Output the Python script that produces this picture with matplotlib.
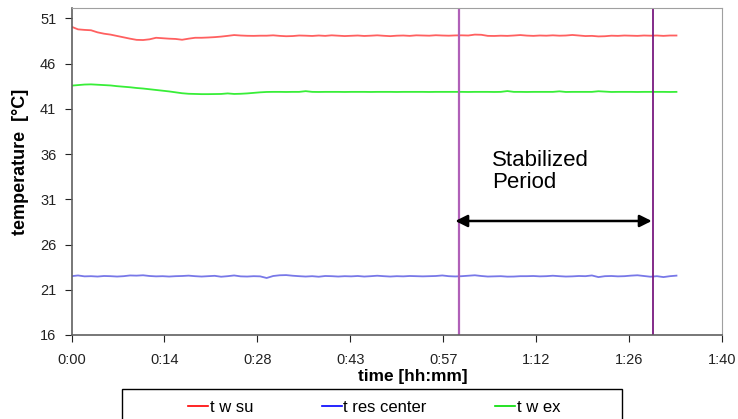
import matplotlib
matplotlib.use("Agg")
import matplotlib.pyplot as plt
from matplotlib.lines import Line2D
from matplotlib.patches import Rectangle
import numpy as np

plt.rcParams['font.family'] = ['Liberation Sans', 'DejaVu Sans']

# time in minutes, one reading per minute
minutes = list(range(94))

tw_su = [50.07, 49.78, 49.72, 49.68, 49.45, 49.3, 49.2, 49.05, 48.9, 48.75,
         48.62, 48.6, 48.68, 48.85, 48.8, 48.75, 48.72, 48.63, 48.75, 48.85,
         48.85, 48.88, 48.92, 48.98, 49.06, 49.15, 49.1, 49.07, 49.06, 49.08,
         49.08, 49.12, 49.06, 49.02, 49.04, 49.1, 49.08, 49.05, 49.1, 49.06,
         49.12, 49.08, 49.04, 49.07, 49.1, 49.05, 49.08, 49.12, 49.07, 49.03,
         49.08, 49.1, 49.06, 49.12, 49.1, 49.08, 49.13, 49.1, 49.08, 49.11,
         49.12, 49.1, 49.2, 49.18, 49.06, 49.05, 49.08, 49.06, 49.1, 49.15,
         49.09, 49.06, 49.1, 49.08, 49.12, 49.08, 49.1, 49.16, 49.1, 49.04,
         49.06, 49.0, 49.02, 49.08, 49.06, 49.1, 49.08, 49.06, 49.1, 49.08,
         49.1, 49.06, 49.1, 49.1]

tres_center = [22.5, 22.58, 22.48, 22.5, 22.46, 22.52, 22.5, 22.46, 22.5, 22.58,
               22.56, 22.6, 22.52, 22.48, 22.5, 22.46, 22.5, 22.52, 22.56, 22.5,
               22.46, 22.5, 22.54, 22.44, 22.5, 22.58, 22.48, 22.46, 22.5, 22.48,
               22.3, 22.52, 22.6, 22.62, 22.55, 22.5, 22.46, 22.5, 22.44, 22.52,
               22.5, 22.46, 22.5, 22.48, 22.52, 22.46, 22.5, 22.55, 22.5, 22.46,
               22.5, 22.48, 22.52, 22.5, 22.48, 22.5, 22.52, 22.58, 22.5, 22.47,
               22.5, 22.55, 22.6, 22.52, 22.46, 22.48, 22.5, 22.45, 22.46, 22.5,
               22.5, 22.52, 22.48, 22.5, 22.55, 22.5, 22.46, 22.48, 22.52, 22.5,
               22.58, 22.4, 22.5, 22.52, 22.48, 22.5, 22.56, 22.6, 22.52, 22.44,
               22.5, 22.4, 22.5, 22.56]

tw_ex = [43.56, 43.62, 43.68, 43.7, 43.66, 43.62, 43.58, 43.5, 43.44, 43.38,
         43.3, 43.24, 43.16, 43.08, 43.0, 42.92, 42.82, 42.72, 42.66, 42.64,
         42.62, 42.62, 42.63, 42.64, 42.7, 42.64, 42.66, 42.7, 42.76, 42.82,
         42.86, 42.87, 42.87, 42.86, 42.87, 42.87, 42.95, 42.87, 42.86, 42.87,
         42.87, 42.87, 42.86, 42.87, 42.87, 42.87, 42.86, 42.87, 42.87, 42.87,
         42.86, 42.87, 42.87, 42.87, 42.87, 42.86, 42.87, 42.87, 42.87, 42.87,
         42.87, 42.86, 42.87, 42.87, 42.87, 42.86, 42.87, 42.96, 42.87, 42.87,
         42.86, 42.87, 42.87, 42.87, 42.87, 42.93, 42.86, 42.87, 42.87, 42.87,
         42.87, 42.94, 42.9, 42.86, 42.87, 42.87, 42.87, 42.86, 42.87, 42.87,
         42.87, 42.87, 42.86, 42.87]

x_labels = ['0:00', '0:14', '0:28', '0:43', '0:57', '1:12', '1:26', '1:40']
y_ticks = [16, 21, 26, 31, 36, 41, 46, 51]

# stabilized period boundaries (minutes)
stab_start, stab_end = 59.5, 89.4

fig = plt.figure(figsize=(7.38, 4.19), dpi=100)
ax = fig.add_axes([0.0969, 0.2005, 0.8814, 0.7804])

ax.plot(minutes, tw_su, color='#ff6060', lw=1.3)
ax.plot(minutes, tres_center, color='#7878e8', lw=1.3)
ax.plot(minutes, tw_ex, color='#38ee38', lw=1.3)

ax.axvline(stab_start, color='#b060b8', lw=1.6)
ax.axvline(stab_end, color='#7a1a80', lw=1.3)

ax.annotate('', xy=(59.0, 28.6), xytext=(89.2, 28.6),
            arrowprops=dict(arrowstyle='<|-|>', color='black', lw=1.8,
                            mutation_scale=18, shrinkA=0, shrinkB=0))
ax.text(64.7, 36.5, 'Stabilized\nPeriod', fontsize=16, va='top', ha='left',
        linespacing=1.1)

ax.set_xlim(0, 100)
ax.set_ylim(16, 52.14)
ax.set_xticks(np.linspace(0, 100, len(x_labels)))
ax.set_xticklabels(x_labels)
ax.set_yticks(y_ticks)
ax.tick_params(direction='out', length=5, labelsize=10.5, colors='#222222')
ax.tick_params(axis='y', pad=6)
ax.tick_params(axis='x', pad=8)

for side in ['top', 'right']:
    ax.spines[side].set_color('#a0a0a0')
for side in ['left', 'bottom']:
    ax.spines[side].set_color('#606060')
    ax.spines[side].set_linewidth(1.2)

ax.set_ylabel('temperature  [°C]', fontsize=13, fontweight='bold')
ax.yaxis.set_label_coords(-0.066, 0.53)
ax.set_xlabel('time [hh:mm]', fontsize=12.4, fontweight='bold')
ax.xaxis.set_label_coords(0.525, -0.105)

# legend box runs off the bottom of the figure
fig.add_artist(Rectangle((122 / 738, -0.1), 500 / 738, 0.1 + 30 / 419,
                         transform=fig.transFigure, fill=False,
                         edgecolor='black', lw=1.0))
handles = [Line2D([], [], color='red', lw=1.2),
           Line2D([], [], color='blue', lw=1.2),
           Line2D([], [], color='#00dd00', lw=1.2)]
fig.legend(handles, ['t w su', 't res center', 't w ex'], ncol=3,
           loc='center left', bbox_to_anchor=(188 / 738, 1 - 407 / 419),
           frameon=False, fontsize=12, handlelength=1.2,
           handletextpad=0.1, columnspacing=4.1, borderpad=0,
           borderaxespad=0)

fig.savefig('out.png', dpi=100)
